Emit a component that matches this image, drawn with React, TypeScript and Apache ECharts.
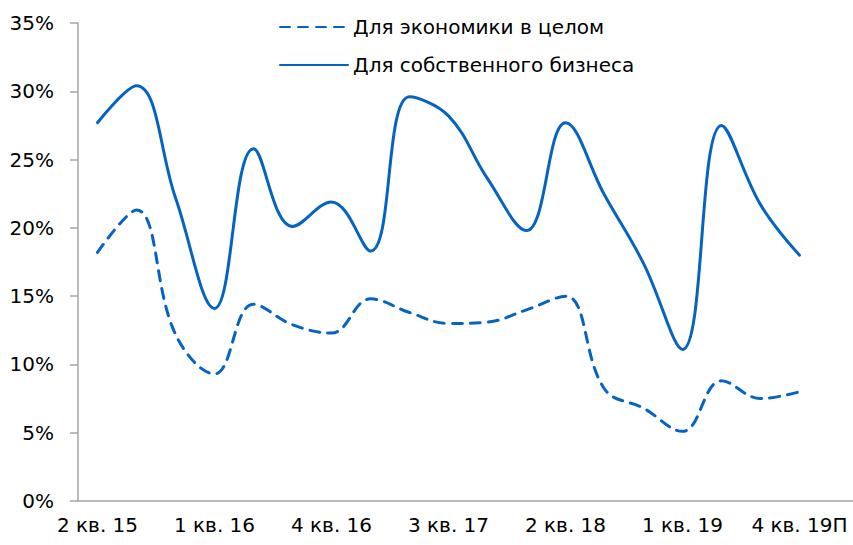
import React, { useEffect, useRef } from "react";
import * as echarts from "echarts";

const categories = [
  "2 кв. 15", "3 кв. 15", "4 кв. 15",
  "1 кв. 16", "2 кв. 16", "3 кв. 16", "4 кв. 16",
  "1 кв. 17", "2 кв. 17", "3 кв. 17", "4 кв. 17",
  "1 кв. 18", "2 кв. 18", "3 кв. 18", "4 кв. 18",
  "1 кв. 19", "2 кв. 19", "3 кв. 19", "4 кв. 19П", "",
];

const economyName = "Для экономики в целом";
const businessName = "Для собственного бизнеса";

const economyValues = [18.2, 21.3, 12.2, 9.3, 14.4, 12.9, 12.3, 14.8, 13.8, 13.0, 13.1, 14.0, 15.0, 8.2, 6.8, 5.1, 8.8, 7.5, 8.0, null];
const businessValues = [27.7, 30.4, 22.2, 14.1, 25.8, 20.1, 21.9, 18.3, 29.6, 28.2, 23.6, 19.8, 27.7, 22.4, 17.4, 11.1, 27.5, 21.7, 18.0, null];

const FONT = "DejaVu Sans";
const BLUE = "#0563c1";

export default function App() {
  const ref = useRef<HTMLDivElement>(null);
  useEffect(() => {
    document.body.style.margin = "0";
    const chart = echarts.init(ref.current!, undefined, { renderer: "svg" });
    chart.setOption({
      animation: false,
      backgroundColor: "#ffffff",
      textStyle: { fontFamily: FONT },
      legend: {
        orient: "vertical",
        left: 274,
        top: 10,
        itemWidth: 68,
        itemHeight: 14,
        itemGap: 14,
        itemStyle: { opacity: 0 },
        textStyle: { fontFamily: FONT, fontSize: 20, color: "#000", lineHeight: 24 },
        data: [economyName, businessName],
      },
      grid: { left: 78, top: 23, height: 478, width: 780, outerBoundsMode: "none", containLabel: false },
      xAxis: {
        type: "category",
        data: categories,
        boundaryGap: true,
        axisLine: { show: true, lineStyle: { color: "#a6a6a6", width: 1.5 } },
        axisTick: { show: false },
        axisLabel: {
          interval: 2,
          margin: 14,
          fontFamily: FONT,
          fontSize: 20,
          color: "#000",
        },
        splitLine: { show: false },
      },
      yAxis: {
        type: "value",
        min: 0,
        max: 35,
        interval: 5,
        axisLine: { show: true, lineStyle: { color: "#a6a6a6", width: 1.5 } },
        axisTick: { show: true, length: 8, lineStyle: { color: "#a6a6a6", width: 1.5 } },
        axisLabel: {
          formatter: "{value}%",
          margin: 24,
          fontFamily: FONT,
          fontSize: 20,
          color: "#000",
        },
        splitLine: { show: false },
      },
      series: [
        {
          name: economyName,
          type: "line",
          data: economyValues,
          smooth: 0.4,
          symbol: "none",
          lineStyle: { color: BLUE, width: 3, type: [10, 8], cap: "round" },
          itemStyle: { color: BLUE },
        },
        {
          name: businessName,
          type: "line",
          data: businessValues,
          smooth: 0.4,
          symbol: "none",
          lineStyle: { color: BLUE, width: 3, cap: "round" },
          itemStyle: { color: BLUE },
        },
      ],
    });
    return () => chart.dispose();
  }, []);
  return <div ref={ref} style={{ width: 853, height: 545 }} />;
}
